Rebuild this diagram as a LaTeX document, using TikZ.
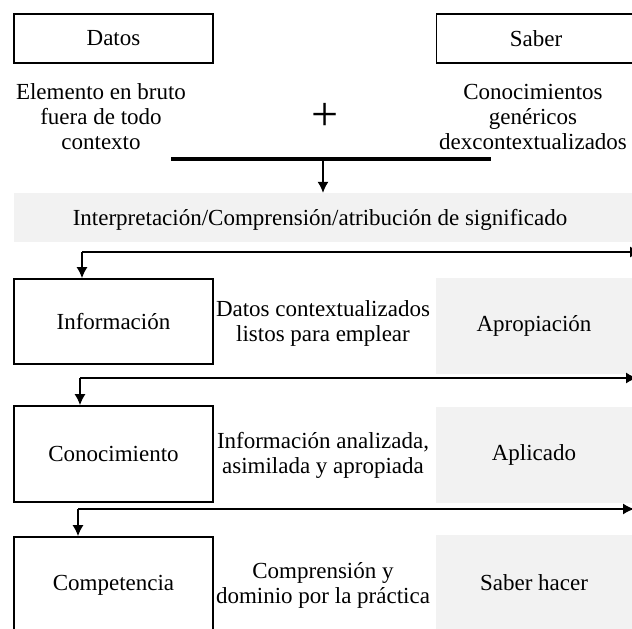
\documentclass[tikz,border=0pt]{standalone}
\usepackage{fontspec}
\setmainfont{Liberation Serif}
\usepackage{tikz}
\usetikzlibrary{positioning, arrows.meta}
\definecolor{bandgray}{RGB}{242,242,242}

\begin{document}
\begin{tikzpicture}[x=1pt, y=-1pt,
  font=\fontsize{23}{25}\selectfont,
  box/.style={draw, line width=1.8pt, minimum width=199pt, inner sep=0pt},
  shade/.style={fill=bandgray, minimum width=196pt, inner sep=0pt},
  flow/.style={line width=1.2pt, -{Latex[length=11pt, width=11pt]}}]
\clip (0,0) rectangle (632,629);

% top row
\node[box, minimum height=49pt] (datos) at (113.5,38.5) {Datos};
\node[box, minimum height=49pt] (saber) at (536,38.5) {Saber};
\node[align=center] (bruto) at (101,117) {Elemento en bruto\\fuera de todo\\contexto};
\node[align=center] (generico) at (533,117) {Conocimientos\\genéricos\\dexcontextualizados};
\node[font=\fontsize{48}{48}\selectfont] (mas) at (325,117) {+};

\coordinate (jl) at (171,159);
\coordinate (jr) at (491,159);
\draw[line width=3.5pt] (jl) -- (jr);

\node[fill=bandgray, minimum width=618pt, minimum height=49pt] (interp) at (323,217.5) {};
\node (interp-txt) at (320,220) {Interpretación/Comprensión/atribución de significado};
\draw[flow] (interp.north |- jl) -- (interp.north);

% levels
\node[box, minimum height=85pt] (info) at (113.5,321.5) {Información};
\node[align=center] (info-txt) at (323,323) {Datos contextualizados\\listos para emplear};
\node[shade, minimum height=96pt] (apro) at (534,326) {Apropiación};

\node[box, minimum height=96pt] (cono) at (113.5,454) {Conocimiento};
\node[align=center] (cono-txt) at (323,455) {Información analizada,\\asimilada y apropiada};
\node[shade, minimum height=96pt] (apli) at (534,454.5) {Aplicado};

\node[box, minimum height=96pt] (compe) at (113.5,585) {Competencia};
\node[align=center] (compe-txt) at (323,585) {Comprensión y\\dominio por la práctica};
\node[shade, minimum height=96pt] (hacer) at (534,583) {Saber hacer};

% connectors
\coordinate (r1) at (82,252);  \coordinate (r1e) at (641,252);
\coordinate (r2) at (80,378);  \coordinate (r2e) at (637,378);
\coordinate (r3) at (78,509);  \coordinate (r3e) at (634,509);
\draw[flow] (r1) -- (r1e);
\draw[flow] (r1) -- (r1 |- info.north);
\draw[flow] (r2) -- (r2e);
\draw[flow] (r2) -- (r2 |- cono.north);
\draw[flow] (r3) -- (r3e);
\draw[flow] (r3) -- (r3 |- compe.north);
\end{tikzpicture}
\end{document}
